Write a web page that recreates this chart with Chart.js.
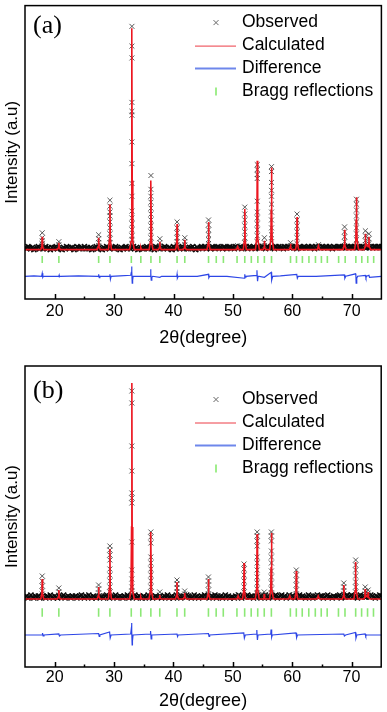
<!DOCTYPE html>
<html>
<head>
<meta charset="utf-8">
<script src="https://cdn.jsdelivr.net/npm/chart.js@4.4.0/dist/chart.umd.min.js"></script>
<style>
  html, body { margin: 0; padding: 0; background: #fff; }
  canvas { display: block; }
</style>
</head>
<body>
<canvas id="chartA" width="387" height="352"></canvas>
<canvas id="chartB" width="387" height="360"></canvas>
<script>
// axis + legend text
const xTicks = [20, 30, 40, 50, 60, 70];
const xMinorTicks = [25, 35, 45, 55, 65];
const legendLabels = ['Observed', 'Calculated', 'Difference', 'Bragg reflections'];
const panelTags = ['(a)', '(b)'];

// Bragg reflection positions (2theta), same phase in both patterns
const braggPositions = [17.9, 20.7, 27.4, 29.3, 32.9, 34.5, 36.2, 37.7, 40.6, 41.9, 45.9, 47.2,
  48.4, 50.7, 52.0, 53.1, 54.2, 55.3, 56.5, 59.7, 60.7, 61.7, 62.8, 63.9, 64.9, 65.9, 67.8,
  68.9, 70.7, 71.7, 72.7, 73.7];

// observed background, one value every 0.25 deg from 15 to 75
const obsStart = 15;
const obsStep = 0.25;
const obsBackgroundA = [
  52,51,53,52,51,52,50,51,52,53, 51,52,51,52,53,51,52,50,52,51,
  52,53,51,52,51,50,52,51,53,52, 51,52,52,50,51,53,52,51,52,51,
  53,51,52,51,52,50,51,52,53,51, 52,51,50,52,51,53,52,51,52,52,
  51,53,52,51,50,52,51,52,53,51, 52,51,52,53,51,52,50,51,52,51,
  51,52,53,51,52,51,52,50,53,52, 52,51,52,51,53,52,51,52,51,50,
  53,52,51,52,51,52,53,51,52,51, 51,52,52,53,51,50,52,51,52,53,
  52,53,51,52,52,51,53,52,51,52, 53,52,52,51,53,52,51,52,53,52,
  52,51,53,52,52,53,51,52,52,53, 51,53,52,52,53,51,52,53,52,52,
  53,52,51,53,52,52,53,52,51,53, 52,53,52,52,51,53,52,53,52,52,
  53,52,53,51,52,53,52,52,53,52, 52,53,52,53,52,51,53,52,53,52,
  53,52,52,53,52,53,52,51,53,52, 52,53,53,52,52,53,52,53,52,53,
  53,52,53,52,53,52,52,53,53,52, 52,53,52,53,52,53,53,52,53,52,
  53];
const obsBackgroundB = [
  70,71,69,70,72,70,69,71,70,71, 69,70,71,70,69,71,70,72,70,69,
  71,70,69,71,70,70,72,69,70,71, 70,69,71,70,71,69,70,71,72,70,
  69,71,70,72,70,69,71,70,69,70, 71,70,70,69,71,72,70,69,71,70,
  70,72,69,70,71,70,69,71,70,72, 69,70,71,70,72,69,70,71,70,69,
  71,69,70,72,70,71,69,70,71,70, 70,71,69,70,71,70,72,69,70,71,
  69,70,72,71,70,69,70,71,70,72, 71,70,69,70,72,70,71,69,70,71,
  70,72,70,71,69,70,71,70,72,69, 71,70,71,69,70,72,70,71,69,70,
  70,69,71,70,72,70,69,71,70,71, 72,70,70,71,69,71,70,72,70,69,
  70,71,72,70,69,70,71,70,71,72, 69,70,71,72,70,71,69,70,72,70,
  71,70,69,71,70,72,70,71,70,69, 70,72,71,70,69,70,71,72,70,71,
  71,69,70,71,72,70,70,69,71,70, 70,71,72,69,70,71,70,72,70,71,
  72,70,71,70,69,71,72,70,71,70, 70,71,70,72,71,70,69,71,70,72,
  71];

// observed points on the reflections: [2theta, heights...]
const obsPeaksA = [
  [17.9, 67, 62, 59, 56, 54],
  [20.7, 58, 55],
  [27.4, 65, 61, 57, 54],
  [29.3, 100, 94, 88, 84, 78, 72, 66, 61, 57],
  [33.0, 276, 256, 244, 199, 190, 186, 159, 137, 117, 104, 89, 82, 76, 70, 64, 60, 56],
  [36.2, 125, 111, 104, 98, 92, 86, 80, 74, 68, 62, 57],
  [37.7, 61, 57, 54],
  [40.6, 78, 72, 67, 62, 58, 55],
  [41.9, 62, 58, 55],
  [45.9, 80, 75, 70, 65, 60, 56],
  [50.8, 54],
  [52.0, 93, 86, 80, 74, 68, 62, 57],
  [54.1, 136, 131, 126, 122, 99, 88, 82, 76, 70, 64, 58],
  [55.3, 62, 57, 54],
  [56.5, 134, 129, 118, 110, 104, 96, 88, 80, 72, 65, 58],
  [59.7, 57, 54],
  [60.8, 86, 80, 74, 68, 62, 56],
  [64.4, 55],
  [68.8, 73, 68, 63, 58, 54],
  [70.8, 101, 96, 90, 84, 78, 72, 66, 60, 55],
  [72.3, 69, 64, 59, 55],
  [72.9, 66, 61, 56]
];
const obsPeaksB = [
  [17.9, 91, 86, 81, 76, 73],
  [20.7, 79, 75, 72],
  [27.4, 82, 78, 74],
  [29.3, 121, 117, 112, 107, 98, 92, 86, 80, 75],
  [33.0, 276, 264, 221, 196, 174, 169, 164, 125, 97, 88, 80, 76, 73],
  [36.2, 135, 130, 124, 110, 104, 98, 92, 86, 80, 75],
  [37.7, 75, 72],
  [40.6, 87, 83, 79, 75],
  [41.9, 76, 73],
  [45.9, 90, 86, 82, 77, 73],
  [50.9, 72],
  [51.9, 103, 98, 92, 86, 80, 75],
  [54.1, 135, 131, 126, 121, 110, 104, 97, 90, 84, 78, 74],
  [55.3, 75, 72],
  [56.5, 135, 131, 126, 116, 110, 104, 96, 90, 84, 78, 74],
  [59.6, 72],
  [60.7, 97, 92, 87, 82, 77, 73],
  [64.4, 71],
  [68.7, 84, 80, 76, 73],
  [70.7, 107, 102, 97, 91, 85, 80, 75],
  [72.3, 80, 76, 73],
  [72.8, 77, 74]
];

// calculated profile [2theta, intensity]
const calcA = [
  [15,50],
  [17.65,50],[17.84,53],[17.9,63],[17.96,53],[18.15,50],
  [20.45,50],[20.64,52],[20.7,57],[20.76,52],[20.95,50],
  [27.15,50],[27.34,53],[27.4,62],[27.46,53],[27.65,50],
  [29.05,50],[29.24,61],[29.3,96],[29.36,61],[29.55,50],
  [32.6,50],[32.85,58],[32.95,120],[33.0,274],[33.05,120],[33.15,58],[33.4,50],
  [34.4,50],[34.5,52],[34.6,50],
  [35.9,50],[36.1,58],[36.15,80],[36.2,120],[36.25,80],[36.3,58],[36.55,50],
  [37.45,50],[37.64,52],[37.7,58],[37.76,52],[37.95,50],
  [40.35,50],[40.54,56],[40.6,76],[40.66,56],[40.85,50],
  [41.65,50],[41.84,52],[41.9,60],[41.96,52],[42.15,50],
  [45.65,50],[45.84,57],[45.9,78],[45.96,57],[46.15,50],
  [50.6,50],[50.8,53],[51.0,50],
  [51.75,50],[51.94,60],[52.0,91],[52.06,60],[52.25,50],
  [53.8,50],[54.0,62],[54.05,90],[54.1,140],[54.15,90],[54.2,62],[54.45,50],
  [55.1,50],[55.24,52],[55.3,59],[55.36,52],[55.55,50],
  [56.2,50],[56.4,62],[56.45,90],[56.5,133],[56.55,90],[56.6,62],[56.85,50],
  [59.5,50],[59.64,52],[59.7,56],[59.76,52],[59.95,50],
  [60.55,50],[60.74,57],[60.8,83],[60.86,57],[61.05,50],
  [64.2,50],[64.4,54],[64.6,50],
  [68.55,50],[68.74,55],[68.8,70],[68.86,55],[69.05,50],
  [70.5,50],[70.7,60],[70.75,80],[70.8,103],[70.85,80],[70.9,60],[71.15,50],
  [72.1,50],[72.25,53],[72.3,66],[72.35,53],[72.55,55],
  [72.75,53],[72.9,63],[72.95,53],[73.2,50],
  [75,50]
];
const calcB = [
  [15,68],
  [17.65,68],[17.84,73],[17.9,88],[17.96,73],[18.15,68],
  [20.45,68],[20.64,70],[20.7,77],[20.76,70],[20.95,68],
  [27.15,68],[27.34,71],[27.4,80],[27.46,71],[27.65,68],
  [29.05,68],[29.24,80],[29.3,118],[29.36,80],[29.55,68],
  [32.6,68],[32.85,76],[32.95,140],[33.0,284],[33.05,140],[33.15,76],[33.4,68],
  [34.4,68],[34.5,70],[34.6,68],
  [35.9,68],[36.1,76],[36.15,100],[36.2,135],[36.25,100],[36.3,76],[36.55,68],
  [37.45,68],[37.64,69],[37.7,72],[37.76,69],[37.95,68],
  [40.35,68],[40.54,72],[40.6,85],[40.66,72],[40.85,68],
  [41.65,68],[41.84,70],[41.9,74],[41.96,70],[42.15,68],
  [45.65,68],[45.84,73],[45.9,88],[45.96,73],[46.15,68],
  [50.7,68],[50.9,71],[51.1,68],
  [51.65,68],[51.84,77],[51.9,104],[51.96,77],[52.15,68],
  [53.8,68],[54.0,78],[54.05,100],[54.1,133],[54.15,100],[54.2,78],[54.45,68],
  [55.1,68],[55.24,69],[55.3,73],[55.36,69],[55.55,68],
  [56.2,68],[56.4,78],[56.45,100],[56.5,134],[56.55,100],[56.6,78],[56.85,68],
  [59.4,68],[59.6,71],[59.8,68],
  [60.45,68],[60.64,74],[60.7,96],[60.76,74],[60.95,68],
  [64.2,68],[64.4,71],[64.6,68],
  [68.45,68],[68.64,71],[68.7,82],[68.76,71],[68.95,68],
  [70.4,68],[70.6,76],[70.65,90],[70.7,105],[70.75,90],[70.8,76],[71.05,68],
  [72.1,68],[72.25,70],[72.3,78],[72.35,70],[72.55,71],
  [72.72,70],[72.8,75],[72.85,70],[73.1,68],
  [75,68]
];

// difference curve (obs - calc, offset)
const diffA = [
  [15,23],[16.5,23.5],[17.8,23],[17.9,26],[18.0,22],[18.1,23],[20.7,23],[20.75,24],[20.8,22.5],
  [21,23],[24,23.5],[27.3,23],[27.4,25],[27.5,21.5],[27.6,23],[29.2,23],[29.3,25],[29.38,20],
  [29.5,23],[31,23.5],[32.8,24],[32.9,27],[32.95,33],[33.0,28],[33.05,16],[33.12,19],[33.2,23],
  [34.5,23],[36.1,23],[36.15,30],[36.2,26],[36.25,19],[36.35,22],[36.5,23],[37.7,22],[38,23],
  [40.55,23],[40.6,25],[40.65,21],[40.8,23],[44,23],[45.9,25],[45.95,21.5],[46.1,23],[49,23],
  [51.95,21],[52,25],[52.05,22],[52.2,23],[54.0,24],[54.05,29],[54.1,22],[54.15,18],[54.25,23],
  [55.3,22],[56.45,27],[56.5,24],[56.55,19],[56.7,23],[58,23.5],[60.75,25],[60.85,21],[61,23],
  [64,23],[68.75,24.5],[68.85,21],[69,23],[70.65,25.5],[70.7,24],[70.75,16],[70.85,21],[71,23],
  [72.3,24],[72.4,21.5],[72.5,23],[72.9,24],[73,22],[75,23]
];
const diffB = [
  [15,32],[17.9,32],[17.95,34],[18.05,31],[18.2,32],[20.7,33],[20.8,31],[21,32],[27.4,33.5],
  [27.5,30.5],[27.6,32],[29.25,35],[29.35,29],[29.5,32],[32.8,33],[32.9,38],[32.95,44],[33.0,36],
  [33.05,22],[33.1,26],[33.2,32],[36.1,33],[36.15,36],[36.25,28],[36.35,32],[40.6,33],[40.7,30.5],
  [40.8,32],[45.9,33.5],[46,30.5],[46.1,32],[51.85,34],[51.95,29],[52.1,32],[54.0,33],[54.05,37],
  [54.1,31],[54.15,27],[54.25,32],[56.4,33],[56.45,37.5],[56.55,30],[56.65,32],[60.65,34],
  [60.75,29.5],[60.9,32],[68.7,33],[68.8,31],[69,32],[70.65,34.5],[70.75,29],[70.9,32],[72.3,33],
  [72.4,31],[72.5,32],[75,32]
];

Chart.defaults.font.family = '"Liberation Sans", Arial, sans-serif';
Chart.defaults.color = '#000';

const RED = 'rgb(236,22,32)';
const BLUE = 'rgb(45,70,230)';
const GREEN = 'rgb(140,232,118)';
const OBS = 'rgba(60,60,60,0.85)';
const OBS_BAND = 'rgb(10,10,10)';

// frame, inward ticks, panel tag and legend
const framePlugin = {
  id: 'frame',
  afterDraw(chart, args, o) {
    const { ctx, chartArea: a, scales: { x } } = chart;
    ctx.save();
    ctx.strokeStyle = '#000';
    ctx.lineWidth = 1.5;
    ctx.strokeRect(a.left, a.top, a.right - a.left, a.bottom - a.top);
    ctx.beginPath();
    xTicks.forEach(v => {
      const px = Math.round(x.getPixelForValue(v)) + 0.5;
      ctx.moveTo(px, a.bottom); ctx.lineTo(px, a.bottom - 5);
    });
    xMinorTicks.forEach(v => {
      const px = Math.round(x.getPixelForValue(v)) + 0.5;
      ctx.moveTo(px, a.bottom); ctx.lineTo(px, a.bottom - 2.5);
    });
    ctx.stroke();

    // panel tag
    ctx.fillStyle = '#000';
    ctx.font = '26px "Liberation Serif", "Times New Roman", serif';
    ctx.textBaseline = 'middle';
    ctx.textAlign = 'left';
    ctx.fillText(o.tag, a.left + 8, a.top + o.tagY);

    // legend
    ctx.font = '17.5px "Liberation Sans", Arial, sans-serif';
    const symX = 216, textX = 242;
    legendLabels.forEach((lab, i) => {
      const y = a.top + o.legendTop + i * o.legendGap;
      ctx.fillStyle = '#000';
      ctx.fillText(lab, textX, y);
      ctx.beginPath();
      if (i === 0) {
        ctx.strokeStyle = '#666'; ctx.lineWidth = 1;
        ctx.moveTo(symX - 2.5, y - 2.5); ctx.lineTo(symX + 2.5, y + 2.5);
        ctx.moveTo(symX + 2.5, y - 2.5); ctx.lineTo(symX - 2.5, y + 2.5);
      } else if (i === 1) {
        ctx.strokeStyle = 'rgb(236,60,70)'; ctx.lineWidth = 1;
        ctx.moveTo(195, y + 0.5); ctx.lineTo(236, y + 0.5);
      } else if (i === 2) {
        ctx.strokeStyle = 'rgb(110,135,235)'; ctx.lineWidth = 2;
        ctx.moveTo(195, y); ctx.lineTo(236, y);
      } else {
        ctx.strokeStyle = 'rgb(160,238,140)'; ctx.lineWidth = 2;
        ctx.moveTo(symX, y - 4); ctx.lineTo(symX, y + 4);
      }
      ctx.stroke();
    });
    ctx.restore();
  }
};

function drawPanel(canvasId, p) {
  // observed points: dense background band and the points on each reflection
  const bandPoints = p.background.map((v, i) => ({ x: obsStart + i * obsStep, y: v }));
  const peakPoints = [];
  p.peaks.forEach(row => {
    row.slice(1).forEach(h => peakPoints.push({ x: row[0], y: h }));
  });

  new Chart(document.getElementById(canvasId), {
    type: 'scatter',
    data: {
      datasets: [
        { label: 'Calculated', data: p.calc.map(d => ({ x: d[0], y: d[1] })), showLine: true,
          borderColor: RED, borderWidth: 1.6, pointRadius: 0, order: 0 },
        { label: 'Difference', data: p.diff.map(d => ({ x: d[0], y: d[1] })), showLine: true,
          borderColor: BLUE, borderWidth: 1.2, pointRadius: 0, order: 1 },
        { label: 'Bragg reflections', data: braggPositions.map(v => ({ x: v, y: p.braggY })),
          pointStyle: 'line', pointRotation: 90, pointRadius: p.braggR,
          pointBorderColor: GREEN, pointBorderWidth: 1.6, order: 2 },
        { label: 'Observed', data: peakPoints, pointStyle: 'crossRot', pointRadius: 3.5,
          pointBorderColor: OBS, pointBorderWidth: 1, order: 3 },
        { label: 'Observed', data: bandPoints, pointStyle: 'crossRot', pointRadius: 3.6,
          pointBorderColor: OBS_BAND, pointBorderWidth: 1.5, order: 4 }
      ]
    },
    options: {
      responsive: false,
      animation: false,
      events: [],
      layout: { padding: { top: p.padTop, right: 3.5, left: 0, bottom: 0 } },
      plugins: {
        legend: { display: false },
        tooltip: { enabled: false },
        frame: { tag: p.tag, tagY: p.tagY, legendTop: p.legendTop, legendGap: 23 }
      },
      scales: {
        x: {
          type: 'linear', min: 15, max: 75,
          afterBuildTicks: s => { s.ticks = xTicks.map(v => ({ value: v })); },
          afterFit: s => { s.height = p.xAxisH; },
          grid: { display: false, drawTicks: false },
          border: { display: false },
          ticks: { font: { size: 16 }, color: '#000', padding: p.tickPad, maxRotation: 0, autoSkip: false },
          title: { display: true, text: '2θ(degree)', font: { size: 18 }, color: '#000',
                   padding: { top: 0, bottom: p.titlePad } }
        },
        y: {
          min: 0, max: p.yMax,
          afterFit: s => { s.width = 25; },
          ticks: { display: false },
          grid: { display: false, drawTicks: false },
          border: { display: false },
          title: { display: true, text: 'Intensity (a.u)', font: { size: 17 }, color: '#000',
                   padding: { top: 2, bottom: 0 } }
        }
      }
    },
    plugins: [framePlugin]
  });
}

drawPanel('chartA', {
  background: obsBackgroundA, peaks: obsPeaksA, calc: calcA, diff: diffA,
  braggY: 40, braggR: 3.6, yMax: 297, padTop: 2, xAxisH: 53, tickPad: 3, titlePad: 3,
  tag: panelTags[0], tagY: 20.5, legendTop: 17
});
drawPanel('chartB', {
  background: obsBackgroundB, peaks: obsPeaksB, calc: calcB, diff: diffB,
  braggY: 54.5, braggR: 4.2, yMax: 301, padTop: 14, xAxisH: 45, tickPad: 1, titlePad: 0,
  tag: panelTags[1], tagY: 25, legendTop: 33.5
});
</script>
</body>
</html>
